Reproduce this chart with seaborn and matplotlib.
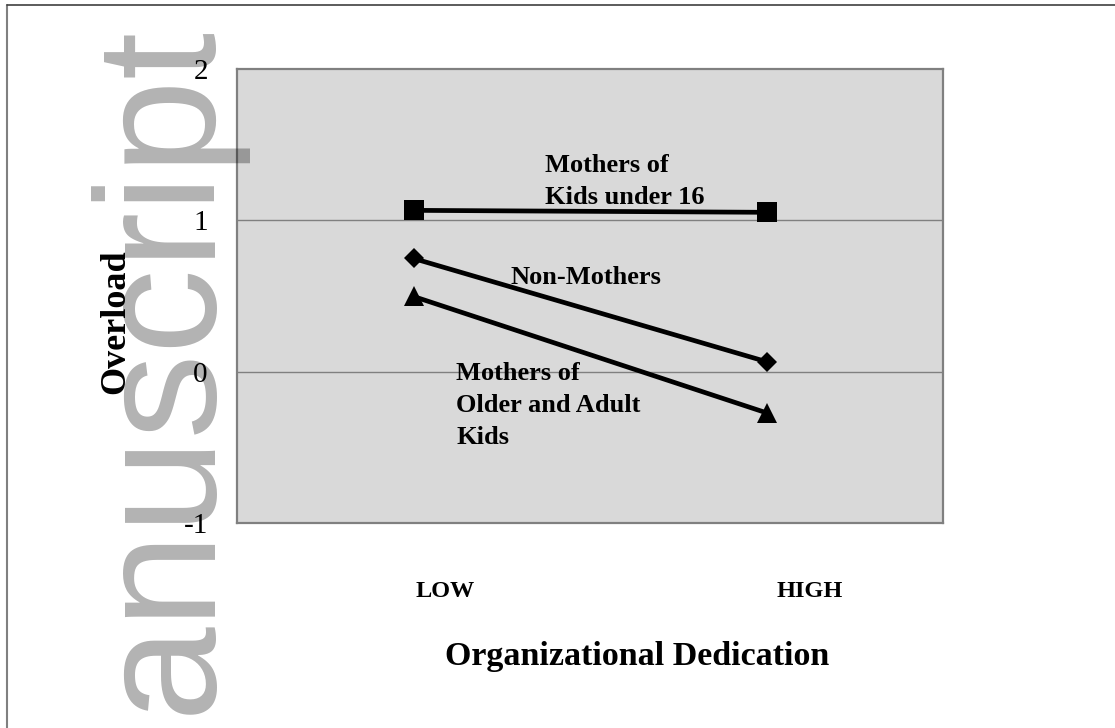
import matplotlib
matplotlib.use("Agg")
import matplotlib.pyplot as plt
import matplotlib.transforms as mtransforms
from matplotlib.lines import Line2D
import seaborn as sns
import pandas as pd

# ---- data ----
categories = ["LOW", "HIGH"]
series_names = ["Mothers of Kids under 16", "Non-Mothers", "Mothers of Older and Adult Kids"]
under16_values = [1.066, 1.053]
nonmothers_values = [0.748, 0.066]
older_values = [0.497, -0.272]
y_ticks = [-1, 0, 1, 2]
y_tick_labels = ["-1", "0", "1", "2"]
labels_text = ["Mothers of\nKids under 16", "Non-Mothers", "Mothers of\nOlder and Adult\nKids"]
label_pos = [(0.373, 1.258), (0.274, 0.623), (0.121, -0.225)]

sns.set_theme(style="white")
plt.rcParams["font.family"] = ["Liberation Serif", "DejaVu Serif"]
plt.rcParams["text.color"] = "black"
plt.rcParams["xtick.color"] = "black"
plt.rcParams["ytick.color"] = "black"

fig = plt.figure(figsize=(11.15, 7.28), dpi=100)
ax = fig.add_axes([237 / 1115, 1 - 523 / 728, (943 - 237) / 1115, (523 - 69) / 728])
ax.set_facecolor("#d9d9d9")

xpos = list(range(len(categories)))
df = pd.DataFrame({
    "x": xpos * 3,
    "y": under16_values + nonmothers_values + older_values,
    "series": [series_names[0]] * 2 + [series_names[1]] * 2 + [series_names[2]] * 2,
})

markers = {series_names[0]: "s", series_names[1]: "D", series_names[2]: "^"}
msizes = {series_names[0]: 14.4, series_names[1]: 10.2, series_names[2]: 14.4}
for name in series_names:
    sub = df[df["series"] == name]
    sns.lineplot(data=sub, x="x", y="y", ax=ax, color="black", linewidth=3.4,
                 marker=markers[name], markersize=msizes[name],
                 markeredgewidth=0, markerfacecolor="black", zorder=3)

ax.set_xlim(-0.5, 1.5)
ax.set_ylim(-1, 2)
ax.set_yticks(y_ticks)
ax.set_yticklabels(y_tick_labels, fontsize=21, color="black")
ax.tick_params(axis="y", length=0, pad=21)
ax.set_xticks(xpos)
ax.set_xticklabels(categories, fontsize=17.5, fontweight="bold", color="black")
ax.tick_params(axis="x", length=0, pad=42)
offsets = [32, 43]
for lbl, off in zip(ax.get_xticklabels(), offsets):
    lbl.set_transform(lbl.get_transform() + mtransforms.ScaledTranslation(off / 100, 0, fig.dpi_scale_trans))

ax.grid(False)
for yv in [0, 1]:
    ax.axhline(yv, color="#808080", linewidth=1.0, zorder=1)

for s in ax.spines.values():
    s.set_color("#808080")
    s.set_linewidth(1.6)
    s.set_visible(True)

ax.set_xlabel("")
ax.set_ylabel("")

for txt, (lx, ly) in zip(labels_text, label_pos):
    ax.text(lx, ly, txt, fontsize=19, fontweight="bold", ha="left", va="center",
            linespacing=1.5, color="black", zorder=4)

fig.text(637 / 1115, 1 - 656 / 728, "Organizational Dedication", fontsize=24.5,
         fontweight="bold", ha="center", va="center", color="black")
fig.text(116 / 1115, 1 - 322 / 728, "Overload", fontsize=26, fontweight="bold",
         rotation=90, ha="center", va="center", color="black")

# page frame lines
fig.add_artist(Line2D([7 / 1115, 7 / 1115], [0, 1 - 5 / 728], color="#808080", linewidth=1.5,
                      transform=fig.transFigure))
fig.add_artist(Line2D([7 / 1115, 1], [1 - 5 / 728, 1 - 5 / 728], color="#404040", linewidth=1.2,
                      transform=fig.transFigure))

# manuscript watermark
fig.text(209 / 1115, 14 / 728, "anuscript", fontsize=122.5, family="Liberation Sans",
         color="black", alpha=0.30, rotation=90, rotation_mode="anchor",
         ha="left", va="baseline", zorder=10)

fig.savefig("out.png", dpi=100)
